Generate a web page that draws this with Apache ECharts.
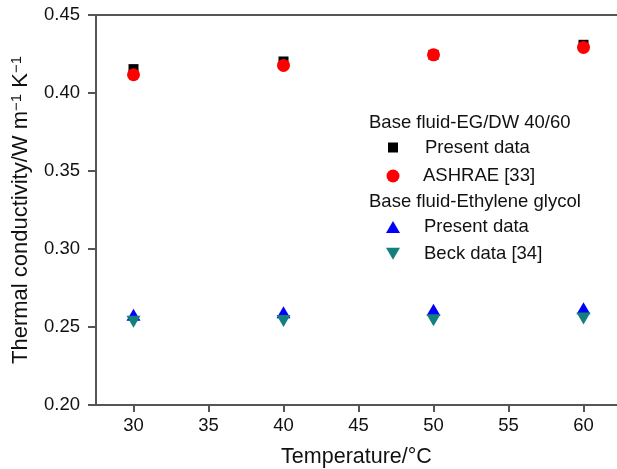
<!DOCTYPE html>
<html>
<head>
<meta charset="utf-8">
<script src="https://cdn.jsdelivr.net/npm/echarts@6/dist/echarts.min.js"></script>
<style>
html,body{margin:0;padding:0;background:#fff;}
#chart{width:617px;height:469px;}
</style>
</head>
<body>
<div id="chart"></div>
<script>
// Data
const temperatures = [30, 40, 50, 60];
const egdwPresent = [0.4153, 0.4202, 0.4245, 0.4309];
const ashrae = [0.4117, 0.4177, 0.4245, 0.4292];
const egPresent = [0.2578, 0.2594, 0.2610, 0.2620];
const beck = [0.2533, 0.2539, 0.2543, 0.2554];
const xTicks = [30, 35, 40, 45, 50, 55, 60];
const yTicks = [0.20, 0.25, 0.30, 0.35, 0.40, 0.45];

const legendLabels = {
  'egdw-present': 'Present data',
  'ASHRAE [33]': 'ASHRAE [33]',
  'eg-present': 'Present data',
  'Beck data [34]': 'Beck data [34]'
};

const FONT = '"Liberation Sans", Arial, Helvetica, sans-serif';
const pts = (ys) => temperatures.map((t, i) => [t, ys[i]]);

function legendItem(name, icon, w, h, centerX, centerY, textX) {
  return {
    orient: 'vertical', padding: 0,
    left: centerX - w / 2, top: centerY - 9.5,
    itemWidth: w, itemHeight: h,
    data: [{name: name, icon: icon}],
    formatter: n => legendLabels[n],
    textStyle: {fontSize: 18.5, color: '#111', lineHeight: 19, fontFamily: FONT,
      padding: [0, 0, 0, textX - (centerX + w / 2 + 5)]},
    selectedMode: false
  };
}

const chart = echarts.init(document.getElementById('chart'), null, {renderer: 'canvas'});
chart.setOption({
  backgroundColor: '#fff',
  animation: false,
  textStyle: {fontFamily: FONT},
  grid: {left: 96, top: 15, width: 521, height: 390, show: false, containLabel: false, outerBoundsMode: 'none'},
  xAxis: [{
    type: 'value', min: 27.5, max: 27.5 + 521 / 15,
    name: 'Temperature/°C', nameLocation: 'middle', nameGap: 41,
    nameTextStyle: {fontSize: 21.5, color: '#111', fontFamily: FONT},
    axisLine: {show: true, lineStyle: {color: '#555', width: 2}},
    axisTick: {show: true, length: 7, lineStyle: {color: '#555', width: 2}, customValues: xTicks},
    axisLabel: {fontSize: 18.5, color: '#111', margin: 11, fontFamily: FONT, customValues: xTicks},
    splitLine: {show: false}
  }, {
    type: 'value', position: 'top', min: 27.5, max: 27.5 + 521 / 15,
    axisLine: {show: true, lineStyle: {color: '#555', width: 2}},
    axisTick: {show: false}, axisLabel: {show: false}, splitLine: {show: false}
  }],
  yAxis: {
    type: 'value', min: 0.20, max: 0.45, interval: 0.05,
    name: 'Thermal conductivity/W m{sup|\u22121} K{sup|\u22121}', nameLocation: 'middle', nameGap: 60,
    nameTextStyle: {fontSize: 22, color: '#111', fontFamily: FONT, lineHeight: 24,
      rich: {sup: {fontSize: 15, verticalAlign: 'top', lineHeight: 24, color: '#111', fontFamily: FONT, padding: [0, 0, 8, 0]}}},
    axisLine: {show: true, lineStyle: {color: '#555', width: 2}},
    axisTick: {show: true, length: 8, lineStyle: {color: '#555', width: 2}},
    axisLabel: {fontSize: 18.5, color: '#111', margin: 16, fontFamily: FONT,
      formatter: v => v.toFixed(2), customValues: yTicks},
    splitLine: {show: false}
  },
  legend: [
    legendItem('egdw-present', 'rect', 10, 10, 393, 147.5, 425),
    legendItem('ASHRAE [33]', 'circle', 13, 13, 393, 176, 423),
    legendItem('eg-present', 'triangle', 14, 12, 393, 227, 424),
    legendItem('Beck data [34]', 'path://M0,0 L14,0 L7,12 Z', 14, 12, 393, 253.7, 424)
  ],
  graphic: [
    {type: 'text', left: 369, top: 113, style: {text: 'Base fluid-EG/DW 40/60', fontSize: 18.5, fill: '#111', fontFamily: FONT}},
    {type: 'text', left: 369, top: 192, style: {text: 'Base fluid-Ethylene glycol', fontSize: 18.5, fill: '#111', fontFamily: FONT}}
  ],
  series: [
    {name: 'egdw-present', type: 'scatter', symbol: 'rect', symbolSize: 10,
      itemStyle: {color: '#000', opacity: 1}, data: pts(egdwPresent)},
    {name: 'ASHRAE [33]', type: 'scatter', symbol: 'circle', symbolSize: 13,
      itemStyle: {color: '#ff0000', opacity: 1}, data: pts(ashrae)},
    {name: 'eg-present', type: 'scatter', symbol: 'triangle', symbolSize: [14, 12],
      itemStyle: {color: '#0000ff', opacity: 1}, data: pts(egPresent)},
    {name: 'Beck data [34]', type: 'scatter', symbol: 'triangle', symbolRotate: 180, symbolSize: [14, 12],
      itemStyle: {color: '#13807e', opacity: 1}, data: pts(beck)}
  ]
});
</script>
</body>
</html>
